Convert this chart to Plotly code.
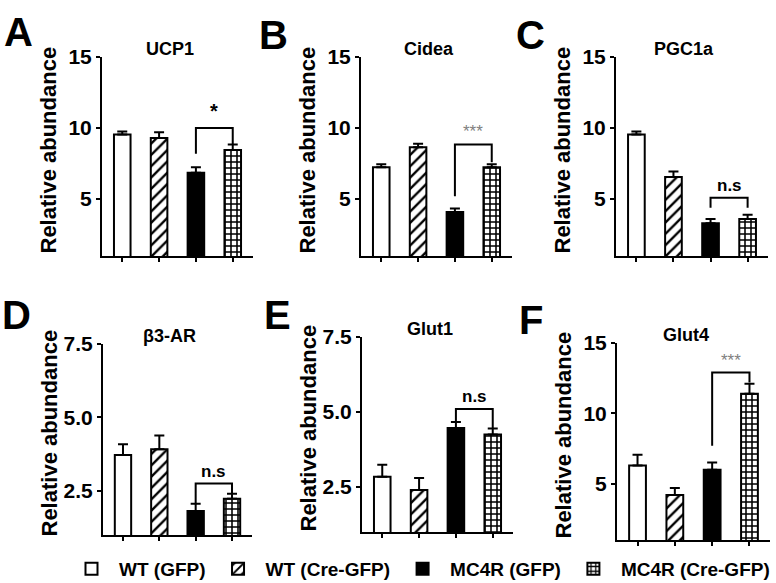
import plotly.graph_objects as go

W, H = 776, 583

genes = ["UCP1", "Cidea", "PGC1a", "β3-AR", "Glut1", "Glut4"]
panel_letters = ["A", "B", "C", "D", "E", "F"]
groups = ["WT (GFP)", "WT (Cre-GFP)", "MC4R (GFP)", "MC4R (Cre-GFP)"]

ucp1_mean = [9.55, 9.3, 6.85, 8.45]
ucp1_err = [0.2, 0.4, 0.4, 0.4]
cidea_mean = [7.25, 8.65, 4.1, 7.25]
cidea_err = [0.2, 0.25, 0.25, 0.2]
pgc1a_mean = [9.55, 6.55, 3.3, 3.6]
pgc1a_err = [0.2, 0.4, 0.3, 0.3]
b3ar_mean = [3.72, 3.92, 1.82, 2.23]
b3ar_err = [0.37, 0.47, 0.24, 0.17]
glut1_mean = [2.84, 2.4, 4.47, 4.25]
glut1_err = [0.4, 0.4, 0.2, 0.2]
glut4_mean = [6.3, 4.2, 6.0, 11.4]
glut4_err = [0.75, 0.5, 0.5, 0.7]

means = [ucp1_mean, cidea_mean, pgc1a_mean, b3ar_mean, glut1_mean, glut4_mean]
errs = [ucp1_err, cidea_err, pgc1a_err, b3ar_err, glut1_err, glut4_err]

# significance brackets between MC4R (GFP) and MC4R (Cre-GFP): top, left leg end, right leg end
bracket_top = [10.0, 8.85, 5.1, 2.75, 5.1, 12.9]
bracket_left = [8.2, 5.2, 4.4, 2.05, 4.7, 7.7]
bracket_right = [8.85, 7.6, 4.4, 2.4, 4.45, 12.2]
bracket_label = ["*", "***", "n.s", "n.s", "n.s", "***"]

y_ranges = [[1, 15], [1, 15], [1, 15], [1, 7.5], [1, 7.5], [1, 15]]
y_ticks = [[5, 10, 15], [5, 10, 15], [5, 10, 15], [2.5, 5.0, 7.5], [2.5, 5.0, 7.5], [5, 10, 15]]
y_ticktext = [["5", "10", "15"], ["5", "10", "15"], ["5", "10", "15"],
              ["2.5", "5.0", "7.5"], ["2.5", "5.0", "7.5"], ["5", "10", "15"]]

# layout in pixels (left, right, top, bottom)
boxes = [(102, 253, 57, 256), (361, 512, 57, 256), (616, 768, 57, 256),
         (103, 252, 344, 535), (362, 513, 337, 532), (617, 770, 343, 540)]

FONT = "Liberation Sans, Arial, sans-serif"

patterns = [
    dict(shape="", fillmode="replace"),
    dict(shape="/", fgcolor="black", bgcolor="white", size=8, solidity=0.3, fillmode="replace"),
    dict(shape="", fillmode="replace"),
    dict(shape="+", fgcolor="black", bgcolor="white", size=6, solidity=0.45, fillmode="replace"),
]
colors = ["white", "white", "black", "white"]

fig = go.Figure()
layout = dict(width=W, height=H, margin=dict(l=0, r=0, t=0, b=0, autoexpand=False),
              paper_bgcolor="white", plot_bgcolor="white",
              font=dict(family=FONT, color="black"), barmode="overlay",
              showlegend=True)

annotations = []
for p in range(6):
    l, r, t, b = boxes[p]
    xa = "xaxis" if p == 0 else f"xaxis{p+1}"
    ya = "yaxis" if p == 0 else f"yaxis{p+1}"
    xr = "x" if p == 0 else f"x{p+1}"
    yr = "y" if p == 0 else f"y{p+1}"
    layout[xa] = dict(domain=[l / W, r / W], range=[-0.55, 3.55], anchor=yr,
                      showline=True, linecolor="black", linewidth=2, mirror=False,
                      ticks="outside", ticklen=4, tickwidth=2, tickcolor="black",
                      tickvals=[0, 1, 2, 3], showticklabels=False,
                      showgrid=False, zeroline=False, fixedrange=True)
    layout[ya] = dict(domain=[1 - b / H, 1 - t / H], range=y_ranges[p], anchor=xr,
                      showline=True, linecolor="black", linewidth=2,
                      ticks="outside", ticklen=4, tickwidth=2, tickcolor="black",
                      tickvals=y_ticks[p], ticktext=y_ticktext[p],
                      tickfont=dict(family=FONT, size=21, weight="bold", color="black"),
                      showgrid=False, zeroline=False, fixedrange=True)
    for g in range(4):
        fig.add_trace(go.Bar(
            x=[g], y=[means[p][g]], base=0, width=0.45,
            name=groups[g], legendgroup=groups[g], showlegend=(p == 0),
            marker=dict(color=colors[g], line=dict(color="black", width=2),
                        pattern=patterns[g]),
            error_y=dict(type="data", array=[errs[p][g]], arrayminus=[0],
                         symmetric=False, color="black", thickness=2, width=5),
            xaxis=xr, yaxis=yr, cliponaxis=True))
    # bracket
    fig.add_trace(go.Scatter(
        x=[2, 2, 3, 3],
        y=[bracket_left[p], bracket_top[p], bracket_top[p], bracket_right[p]],
        mode="lines", line=dict(color="black", width=2), showlegend=False,
        hoverinfo="skip", xaxis=xr, yaxis=yr))
    lab = bracket_label[p]
    annotations.append(dict(
        x=2.5, y=bracket_top[p], xref=xr, yref=yr, text=lab, showarrow=False,
        yanchor="bottom", yshift=(4 if lab == "*" else 1),
        font=dict(family=FONT, size=(20 if lab == "*" else 17),
                  color=("#808080" if lab == "***" else "black"),
                  weight=("normal" if lab == "***" else "bold"))))
    # gene title
    annotations.append(dict(
        x=(l + r) / 2 / W - 0.01, y=1 - (t - 8) / H, xref="paper", yref="paper",
        text=genes[p], showarrow=False, xanchor="center", yanchor="middle",
        font=dict(family=FONT, size=18, weight="bold")))
    # y title
    annotations.append(dict(
        x=(l - 54) / W, y=1 - ((t + b) / 2 - 6) / H, xref="paper", yref="paper",
        text="Relative abundance", showarrow=False, textangle=-90,
        xanchor="center", yanchor="middle",
        font=dict(family=FONT, size=22, weight="bold")))
    # panel letter
    lx = [2, 257, 514, 0, 262, 517][p]
    ly = [8, 11, 11, 291, 291, 296][p]
    annotations.append(dict(
        x=lx / W, y=1 - ly / H, xref="paper", yref="paper", text=panel_letters[p],
        showarrow=False, xanchor="left", yanchor="top",
        font=dict(family=FONT, size=40, weight="bold")))

layout["annotations"] = annotations
layout["legend"] = dict(orientation="h", x=64 / W, y=1 - 569 / H, xanchor="left",
                        yanchor="middle", font=dict(family=FONT, size=19, weight="bold"),
                        itemwidth=45, tracegroupgap=0, bgcolor="rgba(0,0,0,0)")
fig.update_layout(**layout)
fig.write_html("out.html", config={"displayModeBar": False},
               post_script="document.body.style.margin='0px';document.body.style.padding='0px';")
